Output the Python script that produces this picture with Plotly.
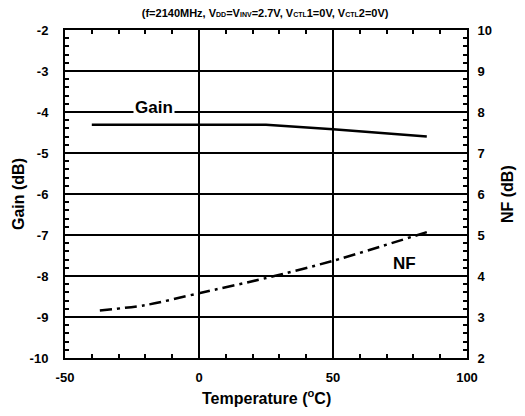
import plotly.graph_objects as go

temp_gain = [-40, -20, 0, 25, 50, 85]
gain_db = [-4.31, -4.31, -4.31, -4.31, -4.42, -4.60]

temp_nf = [-37, -20, 0, 25, 50, 85]
nf_db = [3.16, 3.29, 3.58, 3.95, 4.37, 5.07]

x_ticks = [-50, 0, 50, 100]
gain_ticks = list(range(-10, -1))
nf_ticks = list(range(2, 11))

FONT = "Liberation Sans, Arial, sans-serif"


def bold_labels(vals):
    return ["<b>%d</b>" % v for v in vals]


fig = go.Figure()
fig.add_trace(go.Scatter(x=temp_gain, y=gain_db, mode="lines",
                         line=dict(color="black", width=2.5),
                         showlegend=False))
fig.add_trace(go.Scatter(x=temp_nf, y=nf_db, mode="lines", yaxis="y2",
                         line=dict(color="black", width=2.5, dash="12px,5px,3px,5px",
                                   shape="spline", smoothing=0.8),
                         showlegend=False))

axis_common = dict(
    showline=True, linecolor="black", linewidth=2,
    ticks="inside", tickcolor="black", tickwidth=1.5, ticklen=5,
    tickfont=dict(family=FONT, size=13, color="black"),
    zeroline=False, automargin=False,
)
minor = dict(ticks="inside", ticklen=4, tickcolor="black", tickwidth=1.5, showgrid=False)

fig.update_layout(
    width=525, height=416,
    margin=dict(l=65, r=58, t=30, b=58),
    paper_bgcolor="white", plot_bgcolor="white",
    font=dict(family=FONT, color="black"),
    title=dict(
        text="<b>(f=2140MHz, V<span style='font-size:7px'>DD</span>=V<span style='font-size:7px'>INV</span>=2.7V, "
             "V<span style='font-size:7px'>CTL</span>1=0V, V<span style='font-size:7px'>CTL</span>2=0V)</b>",
        x=0.505, xanchor="center", y=0.968, yanchor="middle",
        font=dict(family=FONT, size=11, color="black"),
    ),
    xaxis=dict(
        range=[-50, 100], tickvals=x_ticks, ticktext=bold_labels(x_ticks), mirror="ticks",
        showgrid=True, gridcolor="black", gridwidth=1.5, ticklabelstandoff=6,
        minor=dict(dtick=10, **minor),
        **axis_common,
    ),
    yaxis=dict(
        range=[-10, -2], tickvals=gain_ticks, ticktext=bold_labels(gain_ticks), mirror=True,
        showgrid=True, gridcolor="black", gridwidth=1.5, ticklabelstandoff=12,
        minor=dict(dtick=0.2, **minor),
        **axis_common,
    ),
    yaxis2=dict(
        range=[2, 10], tickvals=nf_ticks, ticktext=bold_labels(nf_ticks), overlaying="y", side="right",
        showgrid=False, ticklabelstandoff=6,
        minor=dict(dtick=0.2, **minor),
        **axis_common,
    ),
)

title_font = dict(family=FONT, size=16, color="black")
fig.add_annotation(x=0.5, y=0, xref="paper", yref="paper", yshift=-39, yanchor="middle",
                   text="<b>Temperature (<sup>o</sup>C)</b>", showarrow=False, font=title_font)
fig.add_annotation(x=0, y=0.5, xref="paper", yref="paper", xshift=-47, xanchor="center",
                   text="<b>Gain (dB)</b>", textangle=-90, showarrow=False, font=title_font)
fig.add_annotation(x=1, y=0.5, xref="paper", yref="paper", xshift=40, xanchor="center",
                   text="<b>NF (dB)</b>", textangle=-90, showarrow=False, font=title_font)

fig.add_annotation(x=-16.8, y=-3.9, xref="x", yref="y", text="<b>Gain</b>", showarrow=False,
                   bgcolor="white", borderpad=1,
                   font=dict(family=FONT, size=17, color="black"))
fig.add_annotation(x=76.5, y=4.3, xref="x", yref="y2", text="<b>NF</b>", showarrow=False,
                   bgcolor="white", borderpad=1,
                   font=dict(family=FONT, size=17, color="black"))

fig.write_html("out.html", config={"displayModeBar": False},
               post_script="document.body.style.margin='0';document.body.style.overflow='hidden';")
